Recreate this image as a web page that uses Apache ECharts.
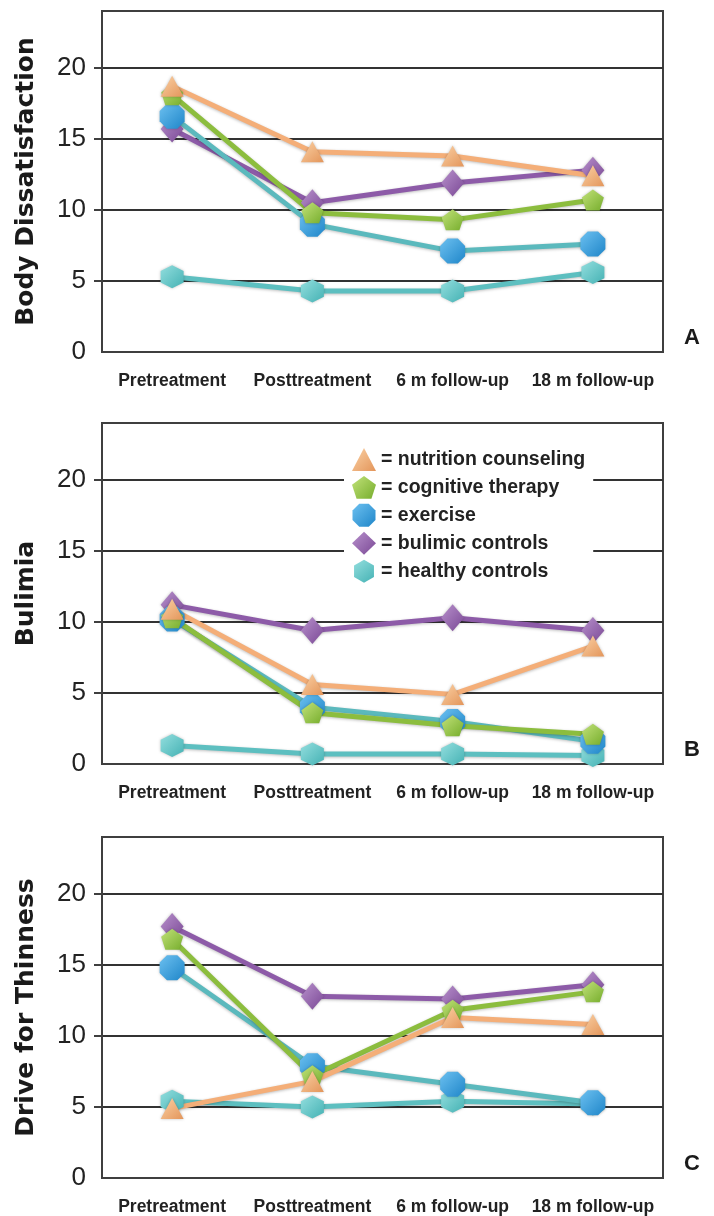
<!DOCTYPE html>
<html><head><meta charset="utf-8">
<script src="https://cdn.jsdelivr.net/npm/echarts@6/dist/echarts.min.js"></script>
<style>html,body{margin:0;padding:0;background:#fff}#c{width:714px;height:1216px}</style>
</head><body><div id="c"></div>
<script>
// ---- data ----
const categories = ['Pretreatment', 'Posttreatment', '6 m follow-up', '18 m follow-up'];
const yTicks = [0, 5, 10, 15, 20];
const yMax = 24;
const panelNames = ['Body Dissatisfaction', 'Bulimia', 'Drive for Thinness'];
const panelLetters = ['A', 'B', 'C'];
const groups = ['nutrition counseling', 'cognitive therapy', 'exercise', 'bulimic controls', 'healthy controls'];

// Panel A: Body Dissatisfaction
const bodyNutrition = [18.7, 14.1, 13.8, 12.4];
const bodyCognitive = [18.1, 9.8, 9.3, 10.7];
const bodyExercise  = [16.6, 9.0, 7.1, 7.6];
const bodyBulimic   = [15.7, 10.5, 11.9, 12.8];
const bodyHealthy   = [5.3, 4.3, 4.3, 5.6];

// Panel B: Bulimia
const bulNutrition = [10.9, 5.6, 4.9, 8.3];
const bulCognitive = [10.3, 3.6, 2.7, 2.1];
const bulExercise  = [10.2, 4.0, 3.0, 1.6];
const bulBulimic   = [11.2, 9.4, 10.3, 9.4];
const bulHealthy   = [1.3, 0.7, 0.7, 0.6];

// Panel C: Drive for Thinness
const dftNutrition = [4.9, 6.8, 11.3, 10.8];
const dftCognitive = [16.8, 7.2, 11.8, 13.1];
const dftExercise  = [14.8, 7.9, 6.6, 5.3];
const dftBulimic   = [17.7, 12.8, 12.6, 13.6];
const dftHealthy   = [5.4, 5.0, 5.4, 5.2];

// ---- styles ----
const PENT = 'path://M0,-10 L9.51,-3.09 L5.88,8.09 L-5.88,8.09 L-9.51,-3.09 Z';
const OCT = 'path://M3.83,-9.24 L9.24,-3.83 L9.24,3.83 L3.83,9.24 L-3.83,9.24 L-9.24,3.83 L-9.24,-3.83 L-3.83,-9.24 Z';
const HEX = 'path://M0,-10 L8.66,-5 L8.66,5 L0,10 L-8.66,5 L-8.66,-5 Z';
function grad(a, b) {
  return {type: 'linear', x: 0, y: 0, x2: 1, y2: 1, colorStops: [{offset: 0, color: a}, {offset: 1, color: b}]};
}
const styleMap = {
  'nutrition counseling': {symbol: 'triangle', size: [23, 21], fill: grad('#fbd2a6', '#e3955a'), line: '#f4ae78'},
  'cognitive therapy':    {symbol: PENT, size: [22, 21], fill: grad('#c2e27a', '#76ad2c'), line: '#8cbd3e'},
  'exercise':             {symbol: OCT, size: [25, 25], fill: grad('#6cc0f0', '#1f86c9'), line: '#5bb9bd'},
  'bulimic controls':     {symbol: 'diamond', size: [23, 27], fill: grad('#b891cc', '#7a4895'), line: '#8d5ba8'},
  'healthy controls':     {symbol: HEX, size: [23, 23], fill: grad('#93dede', '#45b2b4'), line: '#5dbfc0'}
};

const panelData = [
  {'nutrition counseling': bodyNutrition, 'cognitive therapy': bodyCognitive, 'exercise': bodyExercise, 'bulimic controls': bodyBulimic, 'healthy controls': bodyHealthy},
  {'nutrition counseling': bulNutrition, 'cognitive therapy': bulCognitive, 'exercise': bulExercise, 'bulimic controls': bulBulimic, 'healthy controls': bulHealthy},
  {'nutrition counseling': dftNutrition, 'cognitive therapy': dftCognitive, 'exercise': dftExercise, 'bulimic controls': dftBulimic, 'healthy controls': dftHealthy}
];
const drawOrder = ['healthy controls', 'bulimic controls', 'exercise', 'cognitive therapy', 'nutrition counseling'];

const gridTops = [11, 423, 837];
const gridH = 341;
const grids = [], xAxes = [], yAxes = [], series = [], graphics = [];

for (let p = 0; p < 3; p++) {
  grids.push({left: 102, width: 561, top: gridTops[p], height: gridH, show: true,
    borderColor: '#3f3f3f', borderWidth: 2, backgroundColor: 'transparent'});
  xAxes.push({type: 'category', gridIndex: p, data: categories, boundaryGap: true,
    axisLine: {lineStyle: {color: '#3f3f3f', width: 2}},
    axisTick: {alignWithLabel: true, length: 11, lineStyle: {color: '#555', width: 2}},
    axisLabel: {margin: 20, color: '#222', fontFamily: 'Liberation Sans, Arial, sans-serif', fontWeight: 'bold', fontSize: 17.5, interval: 0}
  });
  yAxes.push({type: 'value', gridIndex: p, min: 0, max: yMax, interval: 5,
    name: panelNames[p], nameLocation: 'middle', nameGap: 63,
    nameTextStyle: {fontFamily: 'DejaVu Sans, sans-serif', fontWeight: 'bold', fontSize: 25, color: '#1a1a1a'},
    axisLine: {show: true, lineStyle: {color: '#3f3f3f', width: 2}},
    axisTick: {show: true, length: 8, customValues: yTicks.filter(v => v > 0), lineStyle: {color: '#3f3f3f', width: 2}},
    axisLabel: {customValues: yTicks, margin: 16, color: '#222', fontFamily: 'Liberation Sans, Arial, sans-serif', fontSize: 26},
    splitLine: {show: true, lineStyle: {color: '#333', width: 2}}
  });
  for (const g of drawOrder) {
    const s = styleMap[g];
    series.push({
      name: g, type: 'line', xAxisIndex: p, yAxisIndex: p,
      data: panelData[p][g],
      symbol: s.symbol, symbolSize: s.size, showAllSymbol: true,
      lineStyle: {color: s.line, width: 5, shadowColor: 'rgba(0,0,0,0.25)', shadowBlur: 3, shadowOffsetY: 1},
      itemStyle: {color: s.fill, borderWidth: 0, shadowColor: 'rgba(0,0,0,0.25)', shadowBlur: 3},
      emphasis: {disabled: true}, animation: false
    });
  }
  graphics.push({type: 'text', left: 684, top: gridTops[p] + gridH - 25,
    style: {text: panelLetters[p], font: 'bold 22px "Liberation Sans", Arial, sans-serif', fill: '#1a1a1a'}});
}

const chart = echarts.init(document.getElementById('c'), null, {renderer: 'canvas'});
chart.setOption({
  animation: false,
  backgroundColor: '#fff',
  grid: grids, xAxis: xAxes, yAxis: yAxes, series: series,
  legend: {
    orient: 'vertical', left: 344, top: 444, padding: [4, 8, 4, 8],
    itemWidth: 24, itemHeight: 23, itemGap: 5,
    backgroundColor: '#fff',
    data: groups.map(g => ({name: g, icon: styleMap[g].symbol})),
    formatter: n => '= ' + n,
    textStyle: {fontFamily: 'Liberation Sans, Arial, sans-serif', fontWeight: 'bold', fontSize: 19.5, color: '#222'},
    selectedMode: false
  },
  graphic: graphics
});
</script></body></html>
